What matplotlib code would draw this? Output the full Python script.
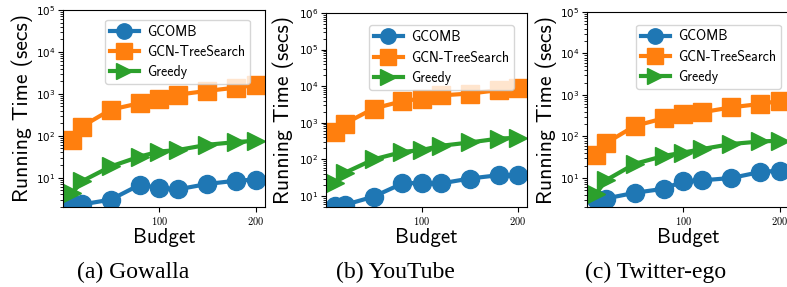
import matplotlib
matplotlib.use("Agg")
import matplotlib.pyplot as plt
from matplotlib.ticker import FuncFormatter, LogLocator, NullFormatter

plt.rcParams['mathtext.fontset'] = 'cm'

budget = [10, 20, 50, 80, 100, 120, 150, 180, 200]

gowalla_gcomb = [2.3, 2.3, 3.0, 6.8, 5.7, 5.3, 7.1, 8.5, 9.0]
gowalla_tree = [80, 166, 420, 600, 760, 960, 1180, 1410, 1630]
gowalla_greedy = [4.3, 8.2, 18.6, 32, 42, 46, 61, 71, 76]

youtube_gcomb = [5.3, 5.7, 9.6, 22, 23, 22, 30, 37, 37]
youtube_tree = [560, 950, 2450, 3900, 4600, 5600, 6300, 7800, 8700]
youtube_greedy = [22, 43, 100, 160, 180, 235, 290, 370, 390]

twitter_gcomb = [3.2, 3.2, 4.4, 5.5, 8.3, 8.8, 10, 14, 15]
twitter_tree = [36, 69, 180, 275, 345, 385, 505, 610, 720]
twitter_greedy = [4.2, 8.8, 22, 34, 41, 50, 66, 76, 79]

series_names = ["GCOMB", "GCN-TreeSearch", "Greedy"]
captions = ["(a) Gowalla", "(b) YouTube", "(c) Twitter-ego"]
ylims = [(2, 1e5), (5, 1e6), (2, 1e5)]
xticks = [100, 200]

panels = [
    (gowalla_gcomb, gowalla_tree, gowalla_greedy),
    (youtube_gcomb, youtube_tree, youtube_greedy),
    (twitter_gcomb, twitter_tree, twitter_greedy),
]

colors = ['#1f77b4', '#ff7f0e', '#2ca02c']
markers = ['o', 's', '>']
sans = ['cmss10', 'DejaVu Sans']

fig = plt.figure(figsize=(7.87, 2.87), dpi=100)

rects = [
    [63/787, 1-207/287, 202/787, 197/287],
    [326/787, 1-207/287, 201/787, 194/287],
    [587/787, 1-207/287, 202/787, 195/287],
]
ylabel_x = [-0.149, -0.159, -0.149]
legend_anchor = [(0.94, 0.965), (0.95, 0.95), (0.975, 0.95)]
caption_x = [133/787, 395/787, 656/787]

def math_int(v, pos):
    return r'$%d$' % v

for i, (rect, data) in enumerate(zip(rects, panels)):
    ax = fig.add_axes(rect)
    for vals, name, c, m in zip(data, series_names, colors, markers):
        ax.plot(budget, vals, color=c, marker=m, markersize=13, lw=3, label=name)
    ax.set_yscale('log')
    ax.set_ylim(*ylims[i])
    ax.set_xticks(xticks)
    ax.xaxis.set_major_formatter(FuncFormatter(math_int))
    ax.yaxis.set_major_locator(LogLocator(base=10, numticks=10))
    ax.yaxis.set_minor_locator(LogLocator(base=10, subs=range(2, 10), numticks=20))
    ax.yaxis.set_minor_formatter(NullFormatter())
    ax.tick_params(labelsize=7.5, pad=2)
    ax.set_xlabel('Budget', fontsize=15, labelpad=1, family=sans)
    ax.set_ylabel('Running Time (secs)', fontsize=15.5, family=sans)
    ax.yaxis.set_label_coords(ylabel_x[i], 0.5)
    ax.legend(loc='upper right', bbox_to_anchor=legend_anchor[i],
              prop={'family': sans, 'size': 10},
              handlelength=2.1, handletextpad=0.6, borderaxespad=0.2,
              borderpad=0.35, labelspacing=0.45, markerscale=0.85)
    fig.text(caption_x[i], 1-272/287, captions[i], ha='center', va='center',
             fontsize=17, family='Liberation Serif')

fig.savefig('out.png', dpi=100)
